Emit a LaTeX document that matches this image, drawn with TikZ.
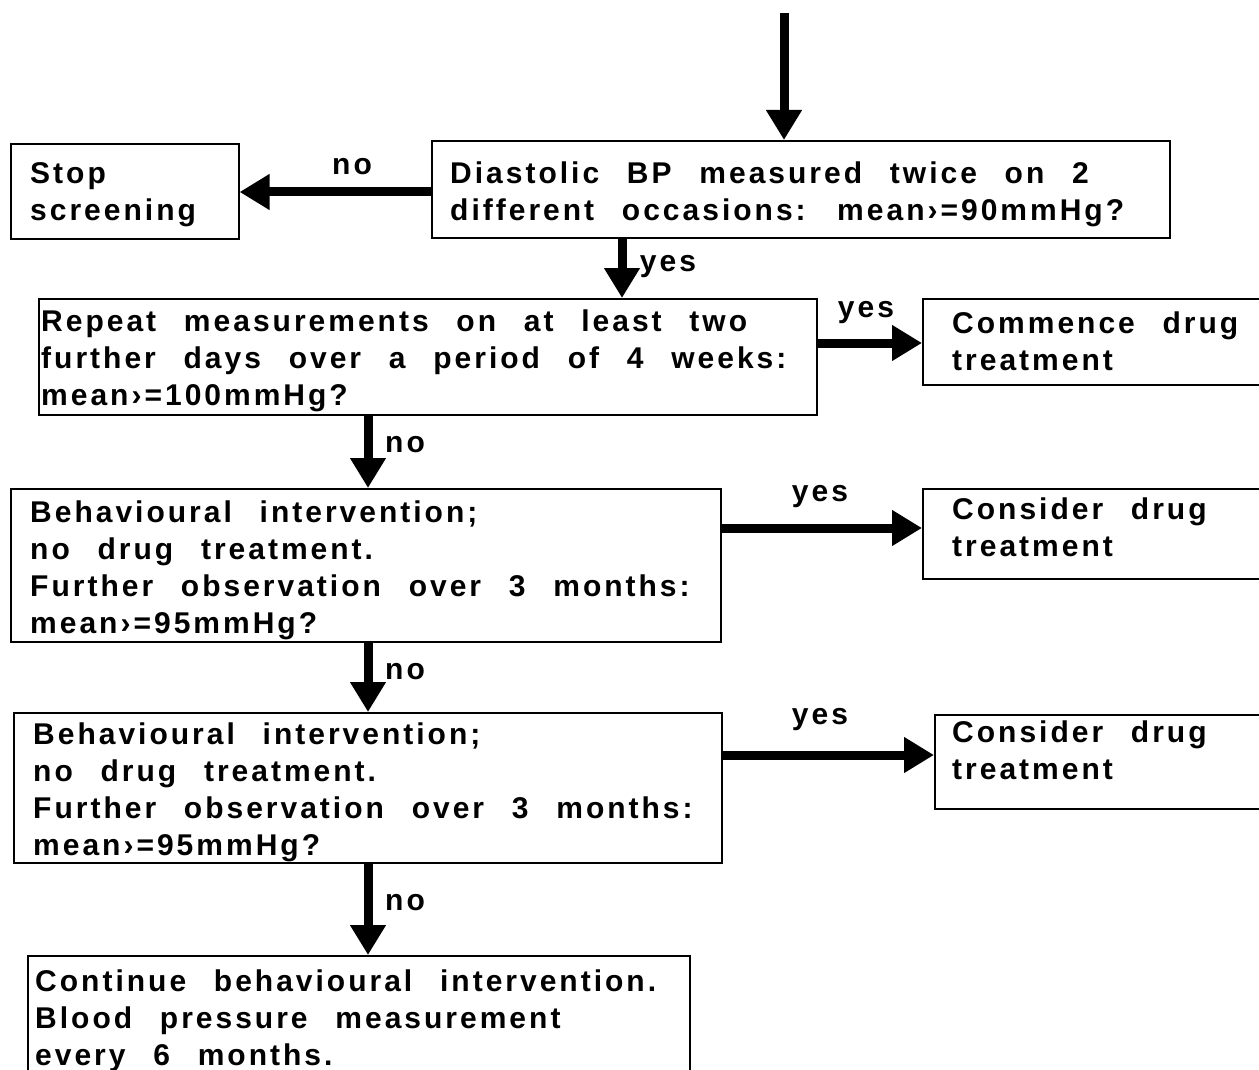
\documentclass[tikz,border=0pt]{standalone}
\usepackage{fontspec}
\usetikzlibrary{arrows.meta}
\newfontfamily\ff[LetterSpace=10,WordSpace=2.45]{Liberation Sans}
\tikzset{
  box/.style={draw, line width=1.6pt, anchor=north west, inner sep=0pt},
  txt/.style={anchor=base west, inner sep=0pt, align=left, font=\ff\bfseries\fontsize{30}{37}\selectfont},
  lbl/.style={inner sep=0pt, font=\ff\bfseries\fontsize{30}{37}\selectfont},
  arr/.style={line width=9pt, -{Triangle[length=30pt,width=34pt]}},
}
\begin{document}
\begin{tikzpicture}[x=1pt,y=-1pt]
\useasboundingbox (0,0) rectangle (1259,1070);
% boxes
\node[box, minimum width=738pt, minimum height=97pt] (b1) at (431,140) {};
\node[box, minimum width=228pt, minimum height=95pt] (stop) at (10,143) {};
\node[box, minimum width=778pt, minimum height=116pt] (b2) at (38,298) {};
\node[box, minimum width=345pt, minimum height=86pt] (c0) at (922,298) {};
\node[box, minimum width=710pt, minimum height=153pt] (b3) at (10,488) {};
\node[box, minimum width=345pt, minimum height=90pt] (c1) at (922,488) {};
\node[box, minimum width=708pt, minimum height=150pt] (b4) at (13,712) {};
\node[box, minimum width=335pt, minimum height=94pt] (c2) at (934,714) {};
\node[box, minimum width=662pt, minimum height=130pt] (b5) at (27,955) {};
% texts (base = baseline of last line)
\node[txt] (t1) at (450,220) {Diastolic BP measured twice on 2\\different occasions: mean›=90mmHg?};
\node[txt] (ts) at (30,220) {Stop\\screening};
\node[txt] (t2) at (41,405) {Repeat measurements on at least two\\further days over a period of 4 weeks:\\mean›=100mmHg?};
\node[txt] (tc0) at (952,370) {Commence drug\\treatment};
\node[txt] (t3) at (30,633) {Behavioural intervention;\\no drug treatment.\\Further observation over 3 months:\\mean›=95mmHg?};
\node[txt] (tc1) at (952,556) {Consider drug\\treatment};
\node[txt] (t4) at (33,855) {Behavioural intervention;\\no drug treatment.\\Further observation over 3 months:\\mean›=95mmHg?};
\node[txt] (tc2) at (952,779) {Consider drug\\treatment};
\node[txt] (t5) at (35,1065) {Continue behavioural intervention.\\Blood pressure measurement\\every 6 months.};
% connectors
\coordinate (start) at (784,13);
\draw[arr] (start) -- (b1.north -| start);
\draw[arr] (b1.west |- 0,192) -- (stop.east |- 0,192);
\draw[arr] (b1.south -| 622,0) -- (b2.north -| 622,0);
\draw[arr] (b2.east |- 0,343) -- (c0.west |- 0,343);
\draw[arr] (b2.south -| 368,0) -- (b3.north -| 368,0);
\draw[arr] (b3.east |- 0,528) -- (c1.west |- 0,528);
\draw[arr] (b3.south -| 368,0) -- (b4.north -| 368,0);
\draw[arr] (b4.east |- 0,755) -- (c2.west |- 0,755);
\draw[arr] (b4.south -| 368,0) -- (b5.north -| 368,0);
% labels
\node[lbl] (l1) at (352,167) {no};
\node[lbl] (l2) at (668,267) {yes};
\node[lbl] (l3) at (866,313) {yes};
\node[lbl] (l4) at (405,445) {no};
\node[lbl] (l5) at (820,497) {yes};
\node[lbl] (l6) at (405,672) {no};
\node[lbl] (l7) at (820,720) {yes};
\node[lbl] (l8) at (405,903) {no};
\end{tikzpicture}
\end{document}
